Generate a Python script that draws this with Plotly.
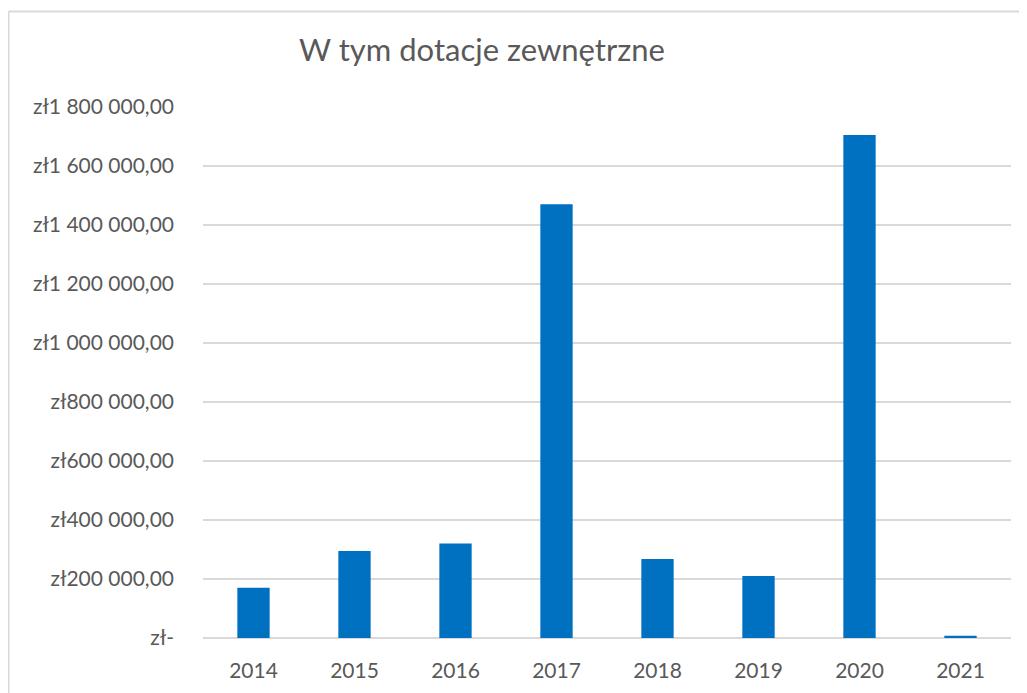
import plotly.graph_objects as go

# Dane
years = ['2014', '2015', '2016', '2017', '2018', '2019', '2020', '2021']
dotacje = [170000, 295000, 320000, 1470000, 268000, 210000, 1705000, 8000]

tick_vals = [0, 200000, 400000, 600000, 800000, 1000000, 1200000, 1400000, 1600000, 1800000]


def fmt_zl(v):
    if v == 0:
        return 'zł-'
    return 'zł' + f"{v:,.2f}".replace(',', ' ').replace('.', ',')


tick_text = [fmt_zl(v) for v in tick_vals]

FONT = 'Lato'
GRAY = '#595959'
GRID = '#D9D9D9'

fig = go.Figure(go.Bar(
    x=years,
    y=dotacje,
    marker=dict(color='#0070C0', line=dict(width=0)),
    showlegend=False,
))

# strona ma 8px marginesu body -> wszystko przesunięte o 8px
OFF = 8
W, H = 1027 - OFF, 693 - OFF
L, T = 203 - OFF, 107 - OFF
R = W - (1011 - OFF)
B = H - (638 - OFF)
pw, ph = W - L - R, H - T - B


def px_x(px):
    return (px - OFF - L) / pw


def px_y(py):
    return (H - B - (py - OFF)) / ph


# Ramka wykresu (lewa i górna krawędź)
fig.add_shape(type='line', xref='paper', yref='paper',
              x0=px_x(8.5), x1=px_x(8.5), y0=px_y(H + 20), y1=px_y(11.5),
              line=dict(color=GRID, width=2))
fig.add_shape(type='line', xref='paper', yref='paper',
              x0=px_x(8.5), x1=px_x(W + 20), y0=px_y(11.5), y1=px_y(11.5),
              line=dict(color=GRID, width=2))

fig.update_layout(
    width=W, height=H,
    margin=dict(l=L, r=R, t=T, b=B),
    paper_bgcolor='white',
    plot_bgcolor='white',
    bargap=0.68,
    title=dict(text='W tym dotacje zewnętrzne', x=(482 - OFF) / W, xanchor='center',
               xref='container', y=1 - (50 - OFF) / H, yanchor='middle', yref='container',
               font=dict(family=FONT, size=31, color=GRAY)),
    font=dict(family=FONT, color=GRAY, size=21),
    xaxis=dict(showgrid=False, showline=False, ticks='', ticklabelstandoff=18,
               tickfont=dict(size=21, color=GRAY)),
    yaxis=dict(range=[0, 1800000], tickvals=tick_vals, ticktext=tick_text,
               showgrid=True, gridcolor=GRID, gridwidth=1.5,
               zeroline=True, zerolinecolor=GRID, zerolinewidth=1.5,
               showline=False, ticks='', ticklabelstandoff=28,
               tickfont=dict(size=21, color=GRAY)),
)

fig.write_html("out.html")
